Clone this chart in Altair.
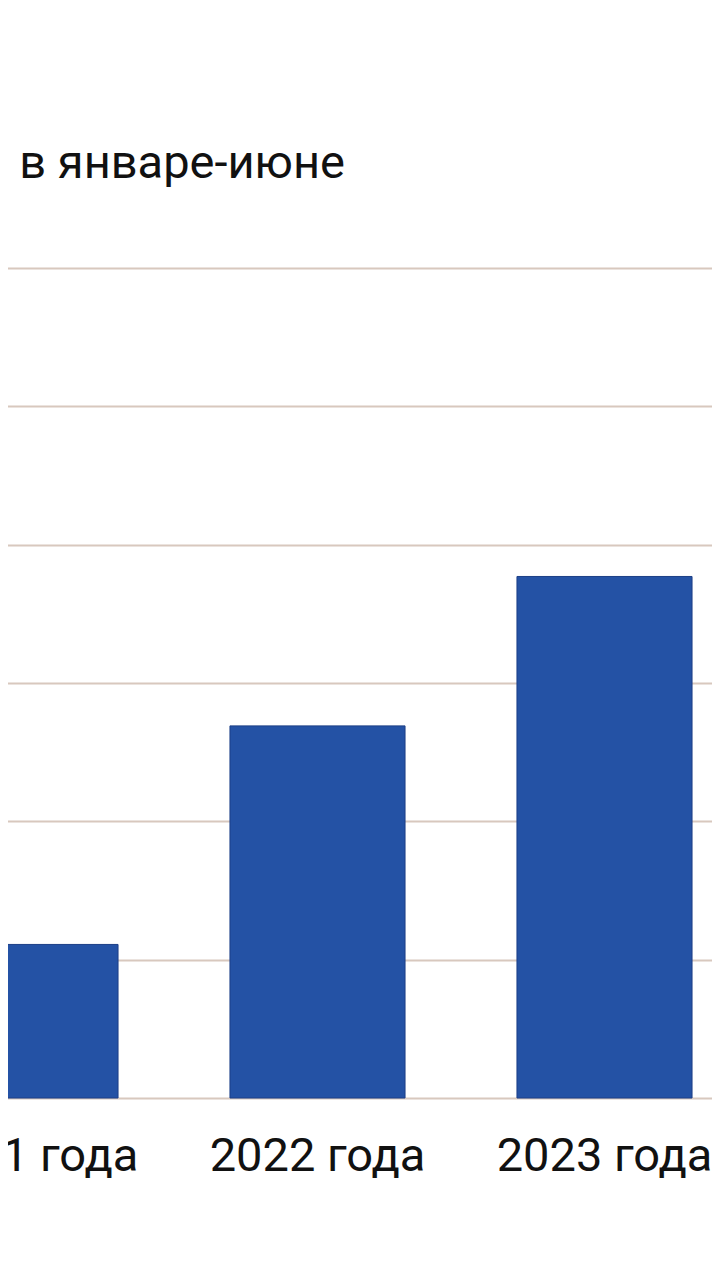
import altair as alt
import pandas as pd

years = ["2021 года", "2022 года", "2023 года"]
values = [11.1, 26.9, 37.7]
y_ticks = [0, 10, 20, 30, 40, 50, 60]
title_text = "Количество преступлений в соцсетях в январе-июне"

df = pd.DataFrame({"year": years, "value": values})

bars = alt.Chart(df).mark_bar(color="#2452a5", stroke="#1c3f86", strokeWidth=1).encode(
    x=alt.X(
        "year:N",
        sort=years,
        title=None,
        scale=alt.Scale(range=[-121, 740], paddingInner=0.39, paddingOuter=0.195),
        axis=alt.Axis(
            labelAngle=0,
            labelFont="Roboto",
            labelFontSize=47,
            labelColor="#111111",
            labelPadding=35,
            labelLimit=0,
            ticks=False,
            domain=False,
            grid=False,
        ),
    ),
    y=alt.Y(
        "value:Q",
        title=None,
        scale=alt.Scale(domain=[0, 60], nice=False),
        axis=alt.Axis(
            values=y_ticks,
            grid=True,
            gridColor="#d8c8be",
            gridWidth=2,
            domain=False,
            ticks=False,
            labelFontSize=30,
        ),
    ),
)

chart = bars.properties(
    width=704,
    height=830,
    background="white",
    padding={"top": 260, "left": 0, "right": 0, "bottom": 140},
    autosize=alt.AutoSizeParams(type="none"),
    title=alt.TitleParams(
        text=title_text,
        anchor="end",
        align="right",
        frame="group",
        dx=-367,
        offset=65,
        font="Roboto",
        fontSize=47,
        fontWeight="normal",
        color="#111111",
    ),
).configure_view(strokeWidth=0, strokeOpacity=0).configure_axis(domain=False)

chart.save("out.html", embed_options={"renderer": "svg", "actions": False})
